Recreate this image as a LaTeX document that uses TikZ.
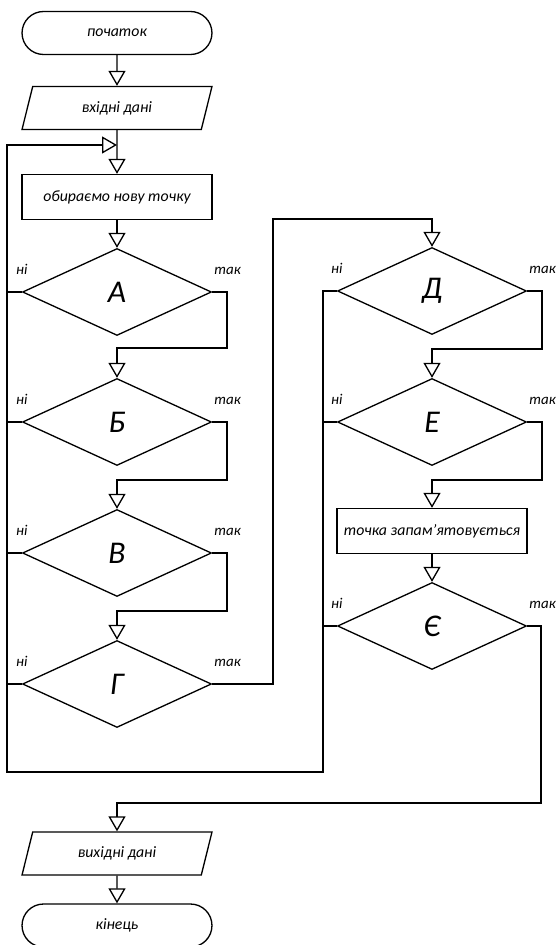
\documentclass[tikz,border=0pt]{standalone}
\usepackage{fontspec}
\newfontfamily\gostfont{Carlito}
\usetikzlibrary{arrows.meta,positioning,shapes.geometric}

\begin{document}
\begin{tikzpicture}[x=0.02cm, y=-0.02cm, line width=0.75pt,
  font=\gostfont\itshape\fontsize{9}{11}\selectfont,
  arr/.style={-{Triangle[open,length=0.3cm,width=0.34cm]}},
  term/.style={draw, rectangle, rounded corners=0.43cm, minimum width=3.8cm, minimum height=0.86cm},
  io/.style={draw, trapezium, trapezium left angle=67, trapezium right angle=113,
    trapezium stretches body, minimum width=3.8cm, minimum height=0.86cm},
  proc/.style={draw, rectangle, minimum width=3.8cm, minimum height=0.9cm},
  cond/.style={draw, diamond, inner sep=0pt, minimum width=3.78cm, minimum height=1.74cm,
    font=\gostfont\itshape\fontsize{18}{18}\selectfont},
  lbl/.style={font=\gostfont\itshape\fontsize{8.5}{10}\selectfont, inner sep=0pt}]
  \useasboundingbox (0,0) rectangle (555,945);

  % left column
  \node[term] (start) at (117,33) {початок};
  \node[io] (input) at (117,108) {вхідні дані};
  \node[proc] (pick) at (117,197) {обираємо нову точку};
  \node[cond] (condA) at (117,292) {А};
  \node[cond] (condB) at (117,422) {Б};
  \node[cond] (condV) at (117,553) {В};
  \node[cond] (condG) at (117,684) {Г};
  % right column
  \node[cond] (condD) at (432,291) {Д};
  \node[cond] (condE) at (432,422) {Е};
  \node[proc] (store) at (432,531) {точка запам’ятовується};
  \node[cond] (condYe) at (432,626) {Є};
  % result
  \node[io] (output) at (117,853.5) {вихідні дані};
  \node[term] (stop) at (117,925.5) {кінець};

  \foreach \c in {condA,condB,condV,condG,condD,condE,condYe} {
    \node[lbl, above=0.34cm of \c.west] (\c-no) {ні};
    \node[lbl, above right=0.34cm and 0.03cm of \c.east] (\c-yes) {так};
  }

  \coordinate (loopin) at (117,145);
  \coordinate (busL) at (7,772);
  \coordinate (busR) at (323,772);

  \draw[arr] (start) -- (input);
  \draw[arr] (input) -- (pick);
  \draw[arr] (pick) -- (condA);
  \draw[arr] (condA.east) -| (227,348) -| (condB.north);
  \draw[arr] (condB.east) -| (227,480) -| (condV.north);
  \draw[arr] (condV.east) -| (227,611) -| (condG.north);
  \draw[arr] (condG.east) -| (273,219) -| (condD.north);
  \draw[arr] (condD.east) -| (542,349) -| (condE.north);
  \draw[arr] (condE.east) -| (542,480) -| (store.north);
  \draw[arr] (store) -- (condYe);
  \draw[arr] (condYe.east) -| (541,803) -| (output.north);
  \draw[arr] (output) -- (stop);

  % "ні" goes back for a new point
  \draw[arr] (condD.west) -| (busR) -- (busL) |- (loopin);
  \foreach \c in {condE,condYe} \draw (\c.west) -- (\c.west -| busR);
  \foreach \c in {condA,condB,condV,condG} \draw (\c.west) -- (\c.west -| busL);
\end{tikzpicture}
\end{document}
